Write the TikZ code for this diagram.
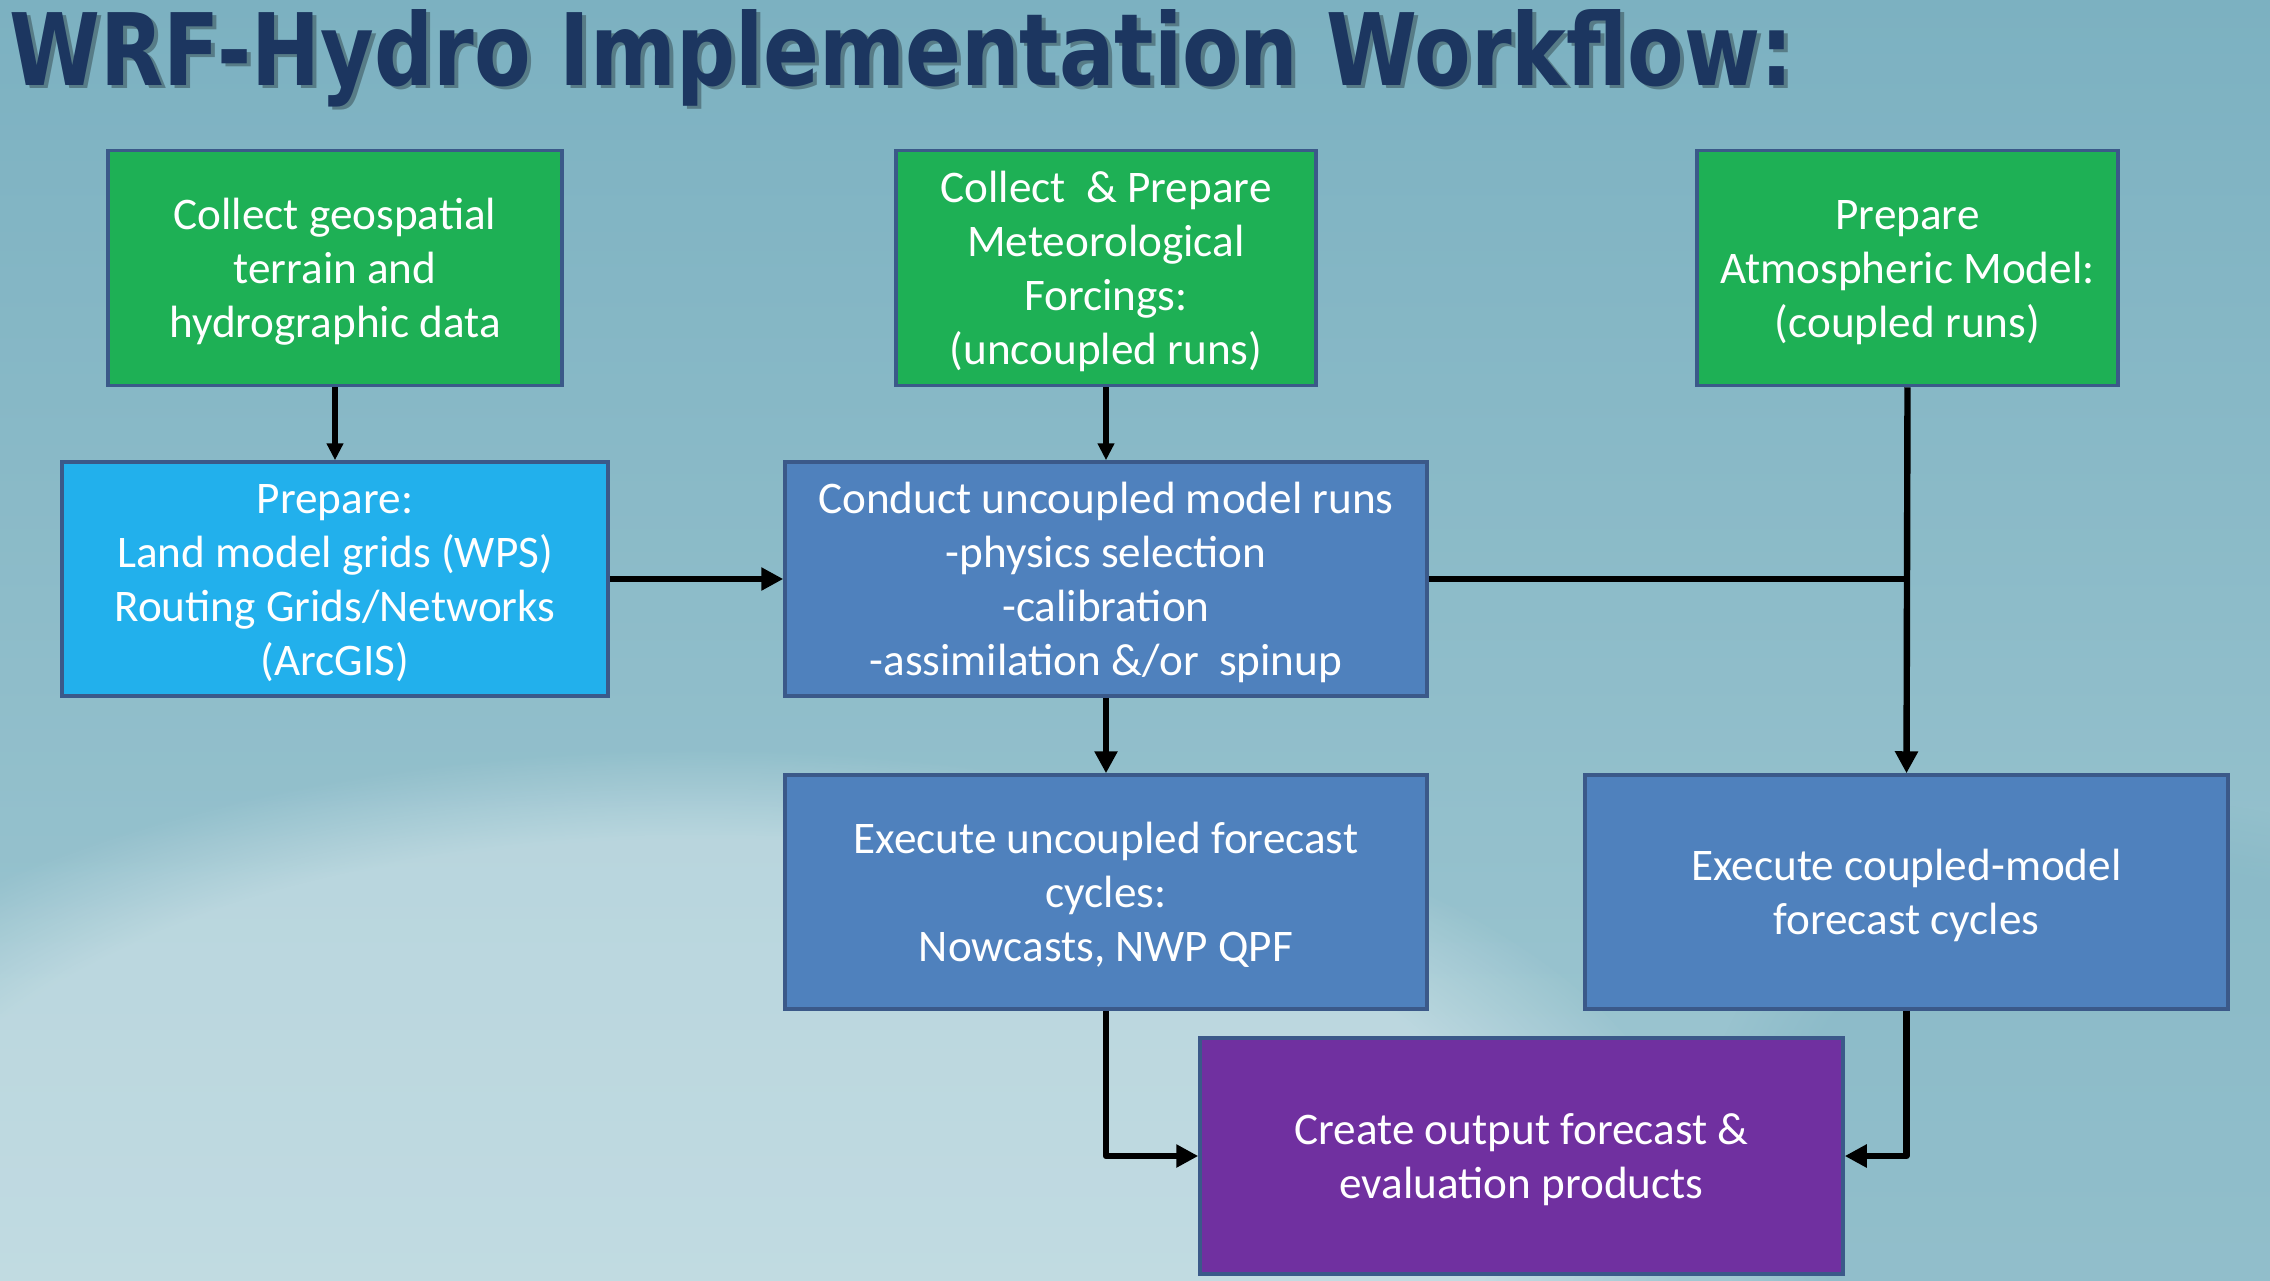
\documentclass[tikz,border=0pt]{standalone}
\usepackage{fontspec}
\setmainfont{Carlito}
\newfontfamily\titlefont{DejaVu Sans}
\usetikzlibrary{arrows.meta,fadings}
\definecolor{gboxc}{RGB}{30,176,85}
\definecolor{lboxc}{RGB}{34,176,236}
\definecolor{sboxc}{RGB}{79,129,189}
\definecolor{pboxc}{RGB}{112,48,160}
\definecolor{bordc}{RGB}{59,89,137}
\definecolor{titlec}{RGB}{28,54,96}
\definecolor{bgtop}{RGB}{124,177,193}
\definecolor{bgbot}{RGB}{160,200,210}
\newcommand{\boxlines}[1]{\raisebox{-2.5pt}[\height][\depth]{\begin{tabular}{@{}c@{}}#1\end{tabular}}}
\tikzset{
  box/.style={draw=bordc, line width=1.75pt, text=white,
    font=\fontsize{22.6}{27}\selectfont, inner sep=0pt},
  conn/.style={draw=black, line width=3.2pt, line join=round,
    -{Triangle[length=11pt,width=11pt]}},
  smallconn/.style={draw=black, line width=3pt,
    -{Triangle[length=8.5pt,width=8pt]}},
  plainline/.style={draw=black, line width=3.2pt},
}
\begin{document}
\begin{tikzpicture}[x=0.5pt,y=-0.5pt]
\useasboundingbox (0,0) rectangle (2270,1280);
\shade[top color=bgtop, bottom color=bgbot] (0,0) rectangle (2270,1280);
\fill[white, opacity=0.35, path fading=circle with fuzzy edge 20 percent]
  (700,1200) ellipse [x radius=1000, y radius=450];
\fill[bgtop, opacity=0.4, path fading=circle with fuzzy edge 20 percent]
  (2150,1150) ellipse [x radius=450, y radius=350];
% title
\node[anchor=base west, inner sep=0pt, text=black, opacity=0.3] (titleshadow) at (13,88)
  {\resizebox{892pt}{\height}{\titlefont\bfseries\fontsize{50}{60}\selectfont WRF-Hydro Implementation Workflow:}};
\node[anchor=base west, inner sep=0pt, text=titlec] (title) at (9,85)
  {\resizebox{892pt}{\height}{\titlefont\bfseries\fontsize{50}{60}\selectfont WRF-Hydro Implementation Workflow:}};
% boxes
\node[box, fill=gboxc, minimum width=227pt, minimum height=117.5pt] (b1) at (335,268)
  {\boxlines{Collect geospatial\\terrain and\\hydrographic data}};
\node[box, fill=gboxc, minimum width=210pt, minimum height=117.5pt] (b2) at (1106,268)
  {\boxlines{Collect\ \ \& Prepare\\Meteorological\\Forcings:\\(uncoupled runs)}};
\node[box, fill=gboxc, minimum width=210.5pt, minimum height=117.5pt] (b3) at (1907.5,268)
  {\boxlines{Prepare\\Atmospheric Model:\\(coupled runs)}};
\node[box, fill=lboxc, minimum width=273pt, minimum height=117pt] (b4) at (335,579)
  {\boxlines{Prepare:\\Land model grids (WPS)\\Routing Grids/Networks\\(ArcGIS)}};
\node[box, fill=sboxc, minimum width=321pt, minimum height=117pt] (b5) at (1106,579)
  {\boxlines{Conduct uncoupled model runs\\-physics selection\\-calibration\\-assimilation \&/or\ \ spinup}};
\node[box, fill=sboxc, minimum width=321pt, minimum height=117pt] (b6) at (1106,892)
  {\boxlines{Execute uncoupled forecast\\cycles:\\Nowcasts, NWP QPF}};
\node[box, fill=sboxc, minimum width=321.5pt, minimum height=117pt] (b7) at (1906.5,892)
  {\boxlines{Execute coupled-model\\forecast cycles}};
\node[box, fill=pboxc, minimum width=321.5pt, minimum height=118pt] (b8) at (1521.5,1156)
  {\boxlines{Create output forecast \&\\evaluation products}};
% connectors
\draw[smallconn] (b1.south) -- (b4.north);
\draw[smallconn] (b2.south) -- (b5.north);
\draw[conn] (b4.east) -- (b5.west);
\draw[conn] (b5.south) -- (b6.north);
\draw[conn] (b3.south) -- (b7.north);
\draw[plainline] (b5.east) -- (b5.east -| b3.south);
\draw[conn] (b6.south) |- (b8.west);
\draw[conn] (b7.south) |- (b8.east);
\end{tikzpicture}
\end{document}
